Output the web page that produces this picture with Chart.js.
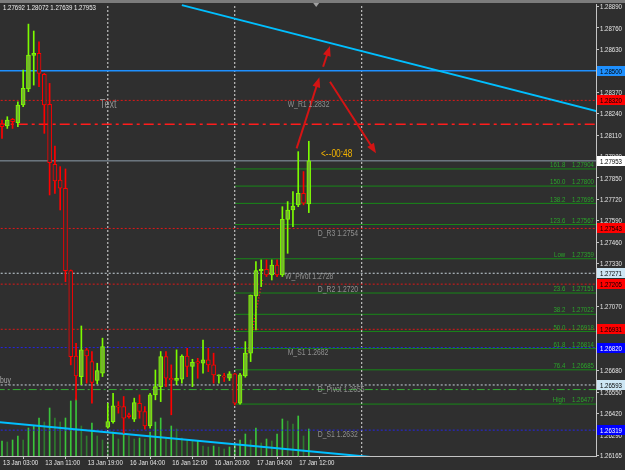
<!DOCTYPE html>
<html>
<head>
<meta charset="utf-8">
<script src="https://cdn.jsdelivr.net/npm/chart.js@4.4.0/dist/chart.umd.min.js"></script>
<style>
html, body { margin: 0; padding: 0; background: #2f2f2f; }
#wrap { width: 625px; height: 470px; }
</style>
</head>
<body>
<div id="wrap"><canvas id="chart" width="625" height="470"></canvas></div>
<script>
// H1 bars, index 0 = 13 Jan 03:00
const opens = [1.28177, 1.28165, 1.28205, 1.28185, 1.28292, 1.28389, 1.28593, 1.28605, 1.28478, 1.28296,
    1.27932, 1.27837, 1.27787, 1.27287, 1.26769, 1.26644, 1.26806, 1.26735, 1.26620, 1.26664,
    1.26337, 1.26371, 1.26466, 1.26462, 1.26412, 1.26385, 1.26482, 1.26432, 1.26345, 1.26533,
    1.26583, 1.26765, 1.26634, 1.26620, 1.26628, 1.26769, 1.26705, 1.26735, 1.26725, 1.26745,
    1.26715, 1.26648, 1.26648, 1.26634, 1.26660, 1.26482, 1.26648, 1.26786, 1.27133, 1.27287,
    1.27295, 1.27261, 1.27321, 1.27261, 1.27598, 1.27655, 1.27686, 1.27756, 1.27692];
const highs = [1.28201, 1.28221, 1.28211, 1.28312, 1.28504, 1.28783, 1.28741, 1.28676, 1.28484, 1.28423,
    1.28043, 1.27918, 1.27904, 1.27291, 1.26846, 1.26951, 1.26816, 1.26796, 1.26725, 1.26877,
    1.26482, 1.26543, 1.26492, 1.26523, 1.26422, 1.26513, 1.26533, 1.26462, 1.26543, 1.26684,
    1.26796, 1.26796, 1.26715, 1.26806, 1.26776, 1.26816, 1.26749, 1.26755, 1.26866, 1.26816,
    1.26786, 1.26654, 1.26664, 1.26674, 1.26664, 1.26664, 1.26856, 1.27139, 1.27342, 1.27352,
    1.27352, 1.27352, 1.27352, 1.27675, 1.27706, 1.27766, 1.28009, 1.27888, 1.28072];
const lows = [1.28090, 1.28150, 1.28150, 1.28161, 1.28282, 1.28373, 1.28413, 1.28403, 1.28120, 1.27746,
    1.27756, 1.27655, 1.27220, 1.26715, 1.26503, 1.26594, 1.26604, 1.26482, 1.26600, 1.26644,
    1.26331, 1.26361, 1.26422, 1.26300, 1.26391, 1.26371, 1.26391, 1.26325, 1.26331, 1.26503,
    1.26492, 1.26583, 1.26412, 1.26594, 1.26604, 1.26644, 1.26583, 1.26634, 1.26664, 1.26674,
    1.26604, 1.26604, 1.26614, 1.26620, 1.26472, 1.26476, 1.26640, 1.26735, 1.26927, 1.27190,
    1.27251, 1.27230, 1.27251, 1.27251, 1.27392, 1.27554, 1.27675, 1.27686, 1.27639];
const closes = [1.28161, 1.28201, 1.28191, 1.28292, 1.28393, 1.28595, 1.28605, 1.28484, 1.28292, 1.27942,
    1.27831, 1.27787, 1.27287, 1.26765, 1.26648, 1.26806, 1.26769, 1.26608, 1.26680, 1.26826,
    1.26371, 1.26466, 1.26458, 1.26391, 1.26401, 1.26486, 1.26432, 1.26345, 1.26533, 1.26583,
    1.26765, 1.26634, 1.26624, 1.26634, 1.26769, 1.26705, 1.26731, 1.26725, 1.26745, 1.26715,
    1.26654, 1.26654, 1.26640, 1.26660, 1.26482, 1.26654, 1.26786, 1.27139, 1.27287, 1.27295,
    1.27261, 1.27321, 1.27261, 1.27598, 1.27655, 1.27679, 1.27756, 1.27696, 1.27953];
const volumes = [150, 140, 160, 200, 160, 280, 300, 380, 340, 480, 380, 340, 380, 550, 570, 300, 200, 330, 200, 160,
    140, 240, 170, 240, 200, 170, 180, 170, 240, 340, 380, 180, 300, 270, 180, 160, 150, 150, 100, 90,
    100, 90, 70, 90, 110, 160, 220, 160, 280, 130, 170, 150, 220, 370, 350, 320, 400, 200, 270];

const timeTicks = [0, 8, 16, 24, 32, 40, 48, 56];
const timeLabels = ['13 Jan 03:00', '13 Jan 11:00', '13 Jan 19:00', '16 Jan 04:00',
    '16 Jan 12:00', '16 Jan 20:00', '17 Jan 04:00', '17 Jan 12:00'];
const priceTicks = [1.28890, 1.28760, 1.28630, 1.28500, 1.28370, 1.28240, 1.28110, 1.27980, 1.27850,
    1.27720, 1.27590, 1.27460, 1.27330, 1.27200, 1.27070, 1.26940, 1.26810, 1.26680, 1.26550,
    1.26420, 1.26290, 1.26165];
const daySeparators = [20, 44, 68];

const currentPrice = 1.27953;
const blueSolidLevels = [1.28500];
const redDotLevels = [1.28320, 1.27543, 1.27205, 1.26931];
const blueDotLevels = [1.26820, 1.26319];
const whiteDotLevels = [1.27271, 1.26593];
const redDashDotLevels = [1.28175];
const greenDashDotLevels = [1.26565];

const fibStart = 44;
const fibLevels = [1.27904, 1.27800, 1.27695, 1.27567, 1.27359, 1.27151, 1.27022, 1.26918, 1.26814, 1.26685, 1.26477];
const fibNames = ['161.8', '150.0', '138.2', '123.6', 'Low', '23.6', '38.2', '50.0', '61.8', '76.4', 'High'];

const pivotTexts = ['W_R1 1.2832', 'D_R3 1.2754', 'W_Pivot 1.2728', 'D_R2 1.2720', 'M_S1 1.2682', 'D_Pivot 1.2655', 'D_S1 1.2632'];
const pivotTextPrices = [1.2832, 1.2754, 1.2728, 1.2720, 1.2682, 1.2659, 1.2632];
const pivotTextBars = [54, 59.7, 53.5, 59.7, 54, 59.7, 59.7];

const upperTrend = [[34, 1.28898], [113, 1.28250]];
const lowerTrend = [[-1, 1.26369], [70, 1.26155]];
const redDotTrend = [[45.6, 1.26654], [49.3, 1.27242]];
const arrows = [
    [[55.7, 1.28029], [60.0, 1.28460]],
    [[60.7, 1.28524], [62.0, 1.28650]],
    [[62.0, 1.28433], [70.7, 1.27999]]
];

const X_MIN = -0.378, X_MAX = 112.29;
const Y_MIN = 1.26162, Y_MAX = 1.28905;
const FONT = "'Liberation Sans', Arial, sans-serif";
const SQUEEZE = 0.76; // MT4 axis font is narrow

const BULL = '#7cfc00', BULL_FILL = '#76b52c', BEAR = '#ff0000', BG = '#2f2f2f';
const isUp = i => closes[i] >= opens[i];

const datasets = [];

// volumes behind everything
datasets.push({
    type: 'bar', yAxisID: 'yv', order: 100, grouped: false, barThickness: 1,
    data: volumes.map((v, i) => ({ x: i, y: v })),
    backgroundColor: volumes.map((v, i) => (i > 0 && v < volumes[i - 1]) ? '#2e7a2e' : '#3ac43a')
});

function lineSet(levels, color, dash, width, from, order) {
    levels.forEach(p => datasets.push({
        type: 'line', order: order || 50,
        data: [{ x: from, y: p }, { x: 114, y: p }],
        borderColor: color, borderDash: dash, borderWidth: width,
        pointRadius: 0, fill: false
    }));
}
lineSet(fibLevels, '#188818', [], 1, fibStart, 60);
lineSet(redDotLevels, '#e01818', [2, 2], 1, -1);
lineSet(blueDotLevels, '#2424e8', [2, 2], 1, -1);
lineSet(whiteDotLevels, '#c8d4dc', [2, 2], 1, -1);
lineSet(redDashDotLevels, '#ff1c1c', [10, 4, 3, 4], 1.5, -1);
lineSet(greenDashDotLevels, '#36b036', [8, 3, 2, 3], 1, -1);
lineSet(blueSolidLevels, '#1e90ff', [], 1.5, -1);
lineSet([currentPrice], '#8d9dab', [], 1, -1);

daySeparators.forEach(d => datasets.push({
    type: 'line', order: 55,
    data: [{ x: d, y: Y_MIN }, { x: d, y: Y_MAX }],
    borderColor: '#dcdcdc', borderDash: [2, 2], borderWidth: 1, pointRadius: 0
}));

[upperTrend, lowerTrend].forEach(t => datasets.push({
    type: 'line', order: 40,
    data: t.map(p => ({ x: p[0], y: p[1] })),
    borderColor: '#00bfff', borderWidth: 2, pointRadius: 0
}));
datasets.push({
    type: 'line', order: 40,
    data: redDotTrend.map(p => ({ x: p[0], y: p[1] })),
    borderColor: '#ff2020', borderDash: [1, 2], borderWidth: 1.5, pointRadius: 0
});

// wicks then bodies
datasets.push({
    type: 'bar', order: 10, grouped: false, barThickness: 1,
    data: opens.map((o, i) => ({ x: i, y: [lows[i], highs[i]] })),
    backgroundColor: opens.map((o, i) => isUp(i) ? BULL : BEAR)
});
datasets.push({
    type: 'bar', order: 5, grouped: false, barThickness: 4, minBarLength: 1,
    data: opens.map((o, i) => ({ x: i, y: [Math.min(o, closes[i]), Math.max(o, closes[i])] })),
    backgroundColor: opens.map((o, i) => isUp(i) ? BULL_FILL : BG),
    borderColor: opens.map((o, i) => isUp(i) ? BULL : BEAR),
    borderWidth: 1, borderSkipped: false
});

// narrow text helper
function narrowText(ctx, text, x, y, align) {
    ctx.save();
    ctx.translate(x, y);
    ctx.scale(SQUEEZE, 1);
    ctx.textAlign = align || 'left';
    ctx.fillText(text, 0, 0);
    ctx.restore();
}

const overlay = {
    id: 'overlay',
    beforeDraw(chart) {
        const ctx = chart.ctx;
        ctx.save();
        ctx.fillStyle = BG;
        ctx.fillRect(0, 0, chart.width, chart.height);
        ctx.restore();
    },
    afterDatasetsDraw(chart) {
        const ctx = chart.ctx, xs = chart.scales.x, ys = chart.scales.y;
        const area = chart.chartArea;
        ctx.save();
        ctx.beginPath();
        ctx.rect(area.left, area.top, area.right - area.left, area.bottom - area.top);
        ctx.clip();

        // arrows
        ctx.strokeStyle = '#d41414';
        ctx.fillStyle = '#d41414';
        ctx.lineWidth = 2;
        arrows.forEach(a => {
            const x1 = xs.getPixelForValue(a[0][0]), y1 = ys.getPixelForValue(a[0][1]);
            const x2 = xs.getPixelForValue(a[1][0]), y2 = ys.getPixelForValue(a[1][1]);
            const ang = Math.atan2(y2 - y1, x2 - x1);
            ctx.beginPath();
            ctx.moveTo(x1, y1);
            ctx.lineTo(x2 - 6 * Math.cos(ang), y2 - 6 * Math.sin(ang));
            ctx.stroke();
            ctx.beginPath();
            ctx.moveTo(x2, y2);
            ctx.lineTo(x2 - 10 * Math.cos(ang) + 4 * Math.sin(ang), y2 - 10 * Math.sin(ang) - 4 * Math.cos(ang));
            ctx.lineTo(x2 - 10 * Math.cos(ang) - 4 * Math.sin(ang), y2 - 10 * Math.sin(ang) + 4 * Math.cos(ang));
            ctx.closePath();
            ctx.fill();
        });

        // fibo labels
        ctx.font = '8px ' + FONT;
        ctx.fillStyle = '#2aa52a';
        ctx.textBaseline = 'bottom';
        fibLevels.forEach((p, i) => {
            narrowText(ctx, fibNames[i] + '    ' + p.toFixed(5), area.right - 2, ys.getPixelForValue(p), 'right');
        });

        // pivot labels
        ctx.font = '9px ' + FONT;
        ctx.fillStyle = '#8f8f8f';
        ctx.textBaseline = 'top';
        pivotTexts.forEach((t, i) => {
            narrowText(ctx, t, xs.getPixelForValue(pivotTextBars[i]), ys.getPixelForValue(pivotTextPrices[i]));
        });

        ctx.font = '12px ' + FONT;
        ctx.textBaseline = 'middle';
        narrowText(ctx, 'Text', xs.getPixelForValue(18.5), ys.getPixelForValue(1.28292));

        ctx.font = '9px ' + FONT;
        ctx.fillStyle = '#a8a8a8';
        ctx.textBaseline = 'bottom';
        narrowText(ctx, 'buy', area.left, ys.getPixelForValue(whiteDotLevels[1]));

        // candle timer
        ctx.font = '11px ' + FONT;
        ctx.fillStyle = '#f2b300';
        ctx.textBaseline = 'bottom';
        narrowText(ctx, '<--00:48', xs.getPixelForValue(60.3), ys.getPixelForValue(currentPrice) - 1);
        ctx.restore();
    },
    afterDraw(chart) {
        const ctx = chart.ctx, xs = chart.scales.x, ys = chart.scales.y, area = chart.chartArea;
        ctx.save();
        // top frame and shift marker
        ctx.fillStyle = '#7c7c7c';
        ctx.fillRect(0, 0, chart.width, 3);
        ctx.fillStyle = '#a0a0a0';
        ctx.beginPath();
        const sx = xs.getPixelForValue(59.4);
        ctx.moveTo(sx - 3, 3);
        ctx.lineTo(sx + 3, 3);
        ctx.lineTo(sx, 7);
        ctx.closePath();
        ctx.fill();

        ctx.font = '8px ' + FONT;
        ctx.textBaseline = 'middle';

        // axis tick labels
        ctx.fillStyle = '#e6e6e6';
        ys.ticks.forEach(t => narrowText(ctx, t.value.toFixed(5), area.right + 4, ys.getPixelForValue(t.value) + 0.5));
        xs.ticks.forEach(t => narrowText(ctx, timeLabels[timeTicks.indexOf(t.value)], xs.getPixelForValue(t.value) + 1, area.bottom + 7));

        // price tags on the axis
        const tags = [];
        blueSolidLevels.forEach(p => tags.push([p, '#1e90ff', '#000000']));
        redDotLevels.forEach(p => tags.push([p, '#ff0000', '#000000']));
        blueDotLevels.forEach(p => tags.push([p, '#0000ff', '#ffffff']));
        whiteDotLevels.forEach(p => tags.push([p, '#cde6f4', '#000000']));
        tags.push([currentPrice, '#ffffff', '#000000']);
        tags.forEach(t => {
            const y = Math.round(ys.getPixelForValue(t[0]));
            ctx.fillStyle = t[1];
            ctx.fillRect(area.right + 1, y - 5, chart.width - area.right - 1, 10);
            ctx.fillStyle = t[2];
            narrowText(ctx, t[0].toFixed(5), area.right + 4, y + 0.5);
        });

        // OHLC header
        const n = opens.length - 1;
        ctx.fillStyle = '#f0f0f0';
        narrowText(ctx, [opens[n], highs[n], lows[n], closes[n]].map(v => v.toFixed(5)).join(' '), 3, 8);
        ctx.restore();
    }
};

new Chart(document.getElementById('chart').getContext('2d'), {
    type: 'bar',
    data: { datasets: datasets },
    options: {
        responsive: false,
        animation: false,
        events: [],
        devicePixelRatio: 1,
        layout: { padding: { top: 4, left: 0, right: 0, bottom: 0 } },
        plugins: { legend: { display: false }, tooltip: { enabled: false } },
        scales: {
            x: {
                type: 'linear', min: X_MIN, max: X_MAX, offset: false,
                afterBuildTicks: s => { s.ticks = timeTicks.map(v => ({ value: v })); },
                afterFit: s => { s.height = 14; s.paddingLeft = 0; s.paddingRight = 0; },
                ticks: { display: false, autoSkip: false },
                grid: { drawOnChartArea: false, drawTicks: true, tickLength: 3, color: '#c4c4c4' },
                border: { color: '#c4c4c4' }
            },
            y: {
                type: 'linear', position: 'right', min: Y_MIN, max: Y_MAX,
                afterBuildTicks: s => { s.ticks = priceTicks.map(v => ({ value: v })); },
                afterFit: s => { s.width = 29; s.paddingTop = 0; s.paddingBottom = 0; },
                ticks: { display: false, autoSkip: false },
                grid: { drawOnChartArea: false, drawTicks: true, tickLength: 3, color: '#c4c4c4' },
                border: { color: '#c4c4c4' }
            },
            yv: { type: 'linear', display: false, min: 0, max: 4520 }
        }
    },
    plugins: [overlay]
});
</script>
</body>
</html>
